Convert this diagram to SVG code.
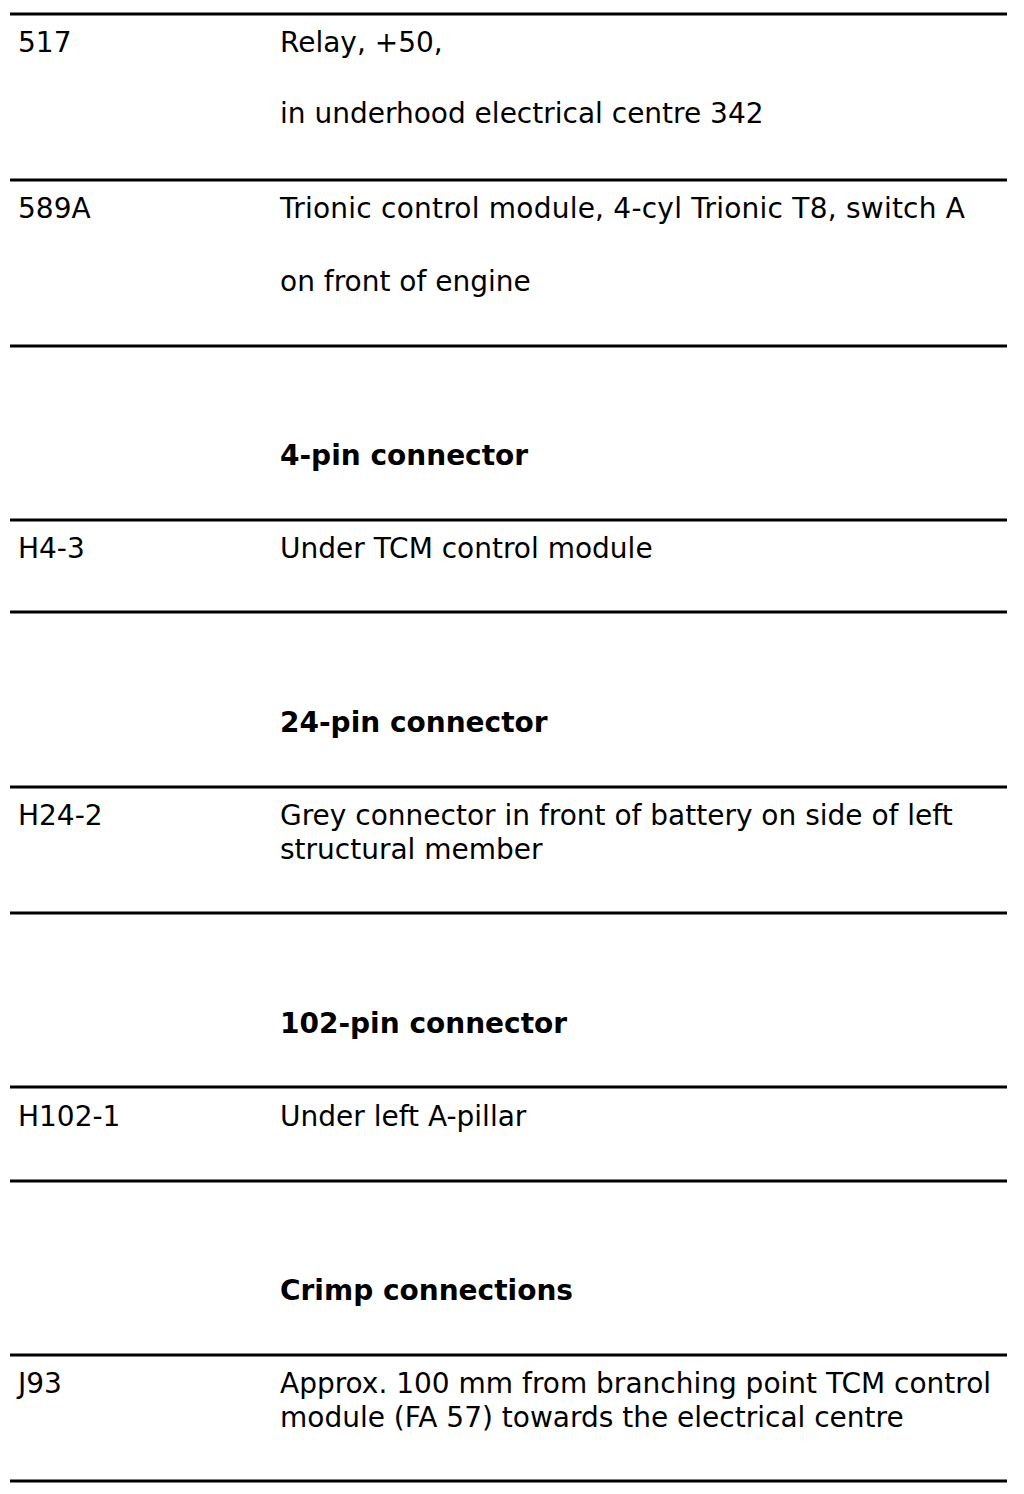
<svg xmlns="http://www.w3.org/2000/svg" width="1024" height="1494" viewBox="0 0 1024 1494">
<style>
text{font-family:"DejaVu Sans","Verdana",sans-serif;font-size:28px;fill:#000}
.b{font-weight:bold}
line{stroke:#000;stroke-width:3}
</style>
<rect width="1024" height="1494" fill="#fff"/>
<g id="rules">
<line x1="10" y1="14" x2="1007" y2="14"/>
<line x1="10" y1="180" x2="1007" y2="180"/>
<line x1="10" y1="346" x2="1007" y2="346"/>
<line x1="10" y1="520" x2="1007" y2="520"/>
<line x1="10" y1="612" x2="1007" y2="612"/>
<line x1="10" y1="787" x2="1007" y2="787"/>
<line x1="10" y1="913" x2="1007" y2="913"/>
<line x1="10" y1="1087" x2="1007" y2="1087"/>
<line x1="10" y1="1181" x2="1007" y2="1181"/>
<line x1="10" y1="1355" x2="1007" y2="1355"/>
<line x1="10" y1="1481" x2="1007" y2="1481"/>
</g>
<g id="row-517">
<text x="18" y="52">517</text>
<text x="280" y="52">Relay, +50,</text>
<text x="280" y="123">in underhood electrical centre 342</text>
</g>
<g id="row-589A">
<text x="18" y="218">589A</text>
<text x="280" y="218" textLength="685">Trionic control module, 4-cyl Trionic T8, switch A</text>
<text x="280" y="291">on front of engine</text>
</g>
<g id="head-4pin"><text class="b" x="280" y="465">4-pin connector</text></g>
<g id="row-H4-3">
<text x="18" y="558">H4-3</text>
<text x="280" y="558">Under TCM control module</text>
</g>
<g id="head-24pin"><text class="b" x="280" y="732">24-pin connector</text></g>
<g id="row-H24-2">
<text x="18" y="825">H24-2</text>
<text x="280" y="825">Grey connector in front of battery on side of left</text>
<text x="280" y="859">structural member</text>
</g>
<g id="head-102pin"><text class="b" x="280" y="1033">102-pin connector</text></g>
<g id="row-H102-1">
<text x="18" y="1126">H102-1</text>
<text x="280" y="1126">Under left A-pillar</text>
</g>
<g id="head-crimp"><text class="b" x="280" y="1300">Crimp connections</text></g>
<g id="row-J93">
<text x="18" y="1393">J93</text>
<text x="280" y="1393">Approx. 100 mm from branching point TCM control</text>
<text x="280" y="1427">module (FA 57) towards the electrical centre</text>
</g>
</svg>
